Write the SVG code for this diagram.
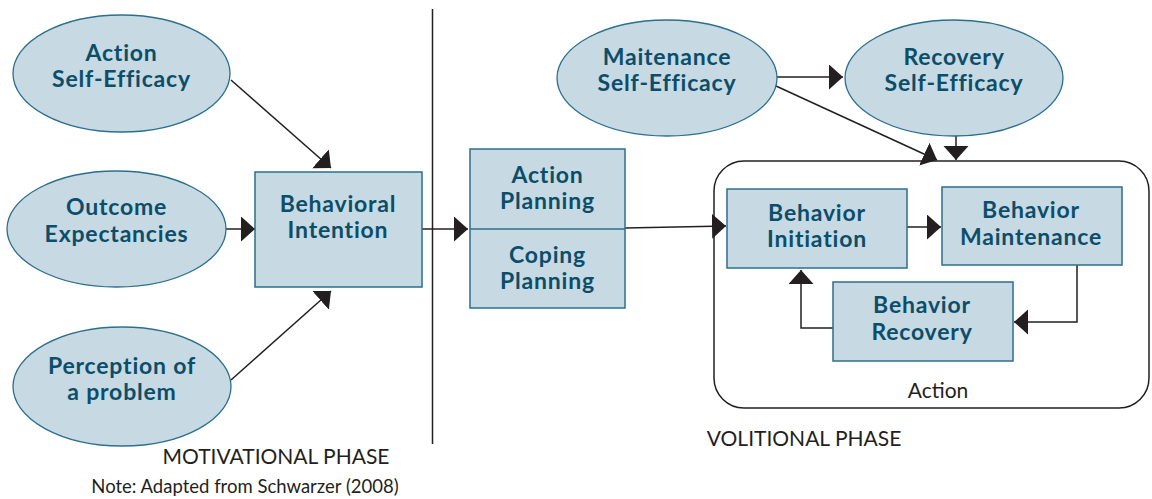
<svg xmlns="http://www.w3.org/2000/svg" width="1152" height="499" viewBox="0 0 1152 499">
<defs>
<style>
.el{fill:#c7d9e3;stroke:#2b6f8c;stroke-width:1.3}
.bx{fill:#c7d9e3;stroke:#2b6f8c;stroke-width:1.5}
.t{font-family:Lato,"Open Sans","Liberation Sans",sans-serif;font-weight:700;font-size:23px;letter-spacing:0.8px;fill:#0b4e69;text-anchor:middle}
.lab{font-family:Lato,"Liberation Sans",sans-serif;font-weight:400;fill:#231f20;text-anchor:middle}
.c{fill:none;stroke:#231f20;stroke-width:1.5}
</style>
<marker id="ah" markerUnits="userSpaceOnUse" markerWidth="15" markerHeight="26" refX="14" refY="12.5" orient="auto">
<path d="M0,0 L14,12.5 L0,25 z" fill="#231f20"/>
</marker>
</defs>
<rect width="1152" height="499" fill="#fff"/>

<g id="phase-divider">
<line x1="432.5" y1="9" x2="432.5" y2="444" stroke="#231f20" stroke-width="1.5"/>
</g>

<g id="action-container">
<rect x="714" y="161" width="435" height="247" rx="30" ry="30" fill="none" stroke="#231f20" stroke-width="1.5"/>
<text class="lab" x="938" y="398" font-size="21">Action</text>
</g>

<g id="connectors">
<line class="c" x1="231" y1="80" x2="331" y2="168" marker-end="url(#ah)"/>
<line class="c" x1="226" y1="229" x2="255" y2="229" marker-end="url(#ah)"/>
<line class="c" x1="231" y1="380" x2="331" y2="291" marker-end="url(#ah)"/>
<line class="c" x1="422" y1="229" x2="468" y2="229" marker-end="url(#ah)"/>
<line class="c" x1="625" y1="228" x2="726" y2="226" marker-end="url(#ah)"/>
<line class="c" x1="777" y1="77" x2="843" y2="77" marker-end="url(#ah)"/>
<line class="c" x1="776" y1="86" x2="937" y2="160" marker-end="url(#ah)"/>
<line class="c" x1="956" y1="136" x2="956" y2="160" marker-end="url(#ah)"/>
<line class="c" x1="907" y1="227" x2="941" y2="227" marker-end="url(#ah)"/>
<polyline class="c" points="1077,265 1077,322 1014,322" marker-end="url(#ah)"/>
<polyline class="c" points="833,328 801,328 801,270" marker-end="url(#ah)"/>
</g>

<g id="action-self-efficacy">
<ellipse class="el" cx="121.5" cy="73.5" rx="108.5" ry="58.5"/>
<text class="t" x="121.5" y="61">Action</text>
<text class="t" x="121.5" y="87">Self-Efficacy</text>
</g>

<g id="outcome-expectancies">
<ellipse class="el" cx="116.5" cy="229" rx="109.5" ry="58"/>
<text class="t" x="116.5" y="215">Outcome</text>
<text class="t" x="116.5" y="242">Expectancies</text>
</g>

<g id="perception-of-a-problem">
<ellipse class="el" cx="122" cy="386.5" rx="109" ry="59.5"/>
<text class="t" x="122" y="374">Perception of</text>
<text class="t" x="122" y="400">a problem</text>
</g>

<g id="behavioral-intention">
<rect class="bx" x="255" y="172" width="167" height="115"/>
<text class="t" x="338" y="212">Behavioral</text>
<text class="t" x="338" y="238">Intention</text>
</g>

<g id="planning">
<rect class="bx" x="470" y="149" width="155" height="159"/>
<line x1="470" y1="229" x2="625" y2="229" stroke="#2b6f8c" stroke-width="1.5"/>
<text class="t" x="547.5" y="183">Action</text>
<text class="t" x="547.5" y="209">Planning</text>
<text class="t" x="547.5" y="263">Coping</text>
<text class="t" x="547.5" y="289">Planning</text>
</g>

<g id="maintenance-self-efficacy">
<ellipse class="el" cx="667" cy="78" rx="110" ry="58"/>
<text class="t" x="667" y="65">Maitenance</text>
<text class="t" x="667" y="91">Self-Efficacy</text>
</g>

<g id="recovery-self-efficacy">
<ellipse class="el" cx="954" cy="78" rx="109" ry="58"/>
<text class="t" x="954" y="65">Recovery</text>
<text class="t" x="954" y="91">Self-Efficacy</text>
</g>

<g id="behavior-initiation">
<rect class="bx" x="727" y="189" width="180" height="79"/>
<text class="t" x="817" y="221">Behavior</text>
<text class="t" x="817" y="247">Initiation</text>
</g>

<g id="behavior-maintenance">
<rect class="bx" x="942" y="187" width="180" height="78"/>
<text class="t" x="1031" y="218">Behavior</text>
<text class="t" x="1031" y="245">Maintenance</text>
</g>

<g id="behavior-recovery">
<rect class="bx" x="833" y="282" width="180" height="79"/>
<text class="t" x="922" y="313">Behavior</text>
<text class="t" x="922" y="340">Recovery</text>
</g>

<g id="labels">
<text class="lab" x="276" y="464" font-size="21">MOTIVATIONAL PHASE</text>
<text class="lab" x="804" y="446" font-size="21">VOLITIONAL PHASE</text>
<text class="lab" x="245" y="493" font-size="18.5">Note: Adapted from Schwarzer (2008)</text>
</g>
</svg>
